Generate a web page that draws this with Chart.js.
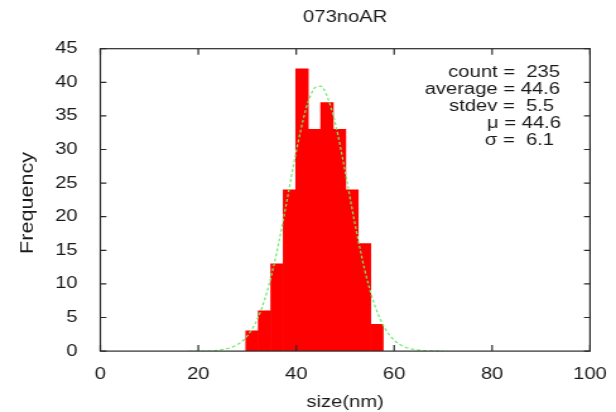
<!DOCTYPE html>
<html>
<head>
<meta charset="utf-8">
<script src="https://cdn.jsdelivr.net/npm/chart.js@4/dist/chart.umd.min.js"></script>
<style>
  html, body { margin: 0; padding: 0; background: #fff; }
  canvas { display: block; }
</style>
</head>
<body>
<!-- drawn at 488 wide and stretched to 616, the source plot has wide lettering -->
<canvas id="chart" width="488" height="412" style="width:616px;height:412px"></canvas>
<script>
// histogram bins (centres, nm) and counts
const binCenters = [30.98, 33.53, 36.08, 38.63, 41.18, 43.73, 46.28, 48.83, 51.38, 53.93, 56.48]
const counts = [3, 6, 13, 24, 42, 33, 37, 33, 24, 16, 4]

// fitted gaussian
const fitX = [18, 20, 24, 28, 30, 32, 34, 36, 38, 40, 42, 43, 44, 45, 46, 48, 50, 52, 54, 56, 58, 60, 62, 64, 66, 70]
const fitY = [0.003, 0.012, 0.13, 0.97, 2.25, 4.68, 8.73, 14.63, 22.0, 29.72, 36.07, 38.16, 39.31, 39.42, 38.48, 33.82, 26.7, 18.93, 12.05, 6.89, 3.54, 1.63, 0.68, 0.25, 0.08, 0.007]

const statLines = ['count =  235', 'average = 44.6', 'stdev =  5.5', '\u03bc = 44.6', '\u03c3 =  6.1']

const chartTitle = '073noAR'
const xTitle = 'size(nm)'
const yTitle = 'Frequency'

const SX = 616 / 488   // horizontal css stretch
const FONT = '"Liberation Sans", Arial, sans-serif'
const INK = '#1a1a1a'

// gnuplot style frame with inward ticks on all four sides
const framePlugin = {
    id: 'frame',
    afterDatasetsDraw(chart) {
        const { ctx, chartArea: a, scales } = chart
        ctx.save()
        ctx.strokeStyle = '#2a2a2a'
        ctx.lineWidth = 1.2
        ctx.beginPath()
        scales.x.ticks.forEach(t => {
            const px = scales.x.getPixelForValue(t.value)
            ctx.moveTo(px, a.bottom); ctx.lineTo(px, a.bottom - 6)
            ctx.moveTo(px, a.top); ctx.lineTo(px, a.top + 6)
        })
        scales.y.ticks.forEach(t => {
            const py = scales.y.getPixelForValue(t.value)
            ctx.moveTo(a.left, py); ctx.lineTo(a.left + 6 / SX, py)
            ctx.moveTo(a.right, py); ctx.lineTo(a.right - 6 / SX, py)
        })
        ctx.stroke()
        ctx.strokeRect(a.left, a.top, a.right - a.left, a.bottom - a.top)
        ctx.restore()
    },
    afterDraw(chart) {
        const { ctx } = chart
        ctx.save()
        ctx.fillStyle = INK
        // stats box, top right
        ctx.font = '16px ' + FONT
        ctx.textAlign = 'right'
        ctx.textBaseline = 'alphabetic'
        const rightEdges = [560, 560, 554, 561, 554]
        statLines.forEach((s, i) => {
            ctx.fillText(s, rightEdges[i] / SX, 76.6 + 17.1 * i)
        })
        // y axis title, rotated
        ctx.translate(22.2, 203)
        ctx.rotate(-Math.PI / 2)
        ctx.scale(1.27, 0.82)
        ctx.font = '17px ' + FONT
        ctx.textAlign = 'center'
        ctx.textBaseline = 'middle'
        ctx.fillText(yTitle, 0, 0)
        ctx.restore()
    }
}

const canvas = document.getElementById('chart')
new Chart(canvas, {
    type: 'bar',
    data: {
        datasets: [
            {
                type: 'line',
                label: 'fit',
                data: fitX.map((x, i) => ({ x: x, y: fitY[i] })),
                borderColor: 'rgb(110, 235, 110)',
                borderWidth: 1.2,
                borderDash: [3, 2],
                pointRadius: 0,
                fill: false,
                cubicInterpolationMode: 'monotone',
                order: 0
            },
            {
                label: 'count',
                data: binCenters.map((x, i) => ({ x: x, y: counts[i] })),
                backgroundColor: '#ff0000',
                borderWidth: 0,
                barPercentage: 1,
                categoryPercentage: 1,
                order: 1
            }
        ]
    },
    options: {
        responsive: false,
        animation: false,
        devicePixelRatio: 1,
        layout: { padding: { left: 0, right: 20.6, top: 0, bottom: 0 } },
        plugins: {
            legend: { display: false },
            tooltip: { enabled: false },
            title: {
                display: true,
                text: chartTitle,
                fullSize: false,
                color: INK,
                font: { family: FONT, size: 16, weight: 'normal', lineHeight: 1.2 },
                padding: { top: 8.2, bottom: 21.3 }
            }
        },
        scales: {
            x: {
                type: 'linear',
                min: 0,
                max: 100,
                offset: false,
                grid: { display: false },
                border: { display: false },
                ticks: { stepSize: 20, color: INK, padding: 6, font: { family: FONT, size: 16 } },
                title: {
                    display: true,
                    text: xTitle,
                    color: INK,
                    font: { family: FONT, size: 16, lineHeight: 1 },
                    padding: { top: 0, bottom: 1.2 }
                },
                afterFit(scale) {
                    scale.height = 412 - 351.1
                    scale.paddingLeft = 5
                    scale.paddingRight = 5
                }
            },
            y: {
                min: 0,
                max: 45,
                grid: { display: false },
                border: { display: false },
                ticks: { stepSize: 5, color: INK, padding: 10, font: { family: FONT, size: 16 } },
                afterFit(scale) { scale.width = 79.5 }
            }
        }
    },
    plugins: [framePlugin]
})
</script>
</body>
</html>
